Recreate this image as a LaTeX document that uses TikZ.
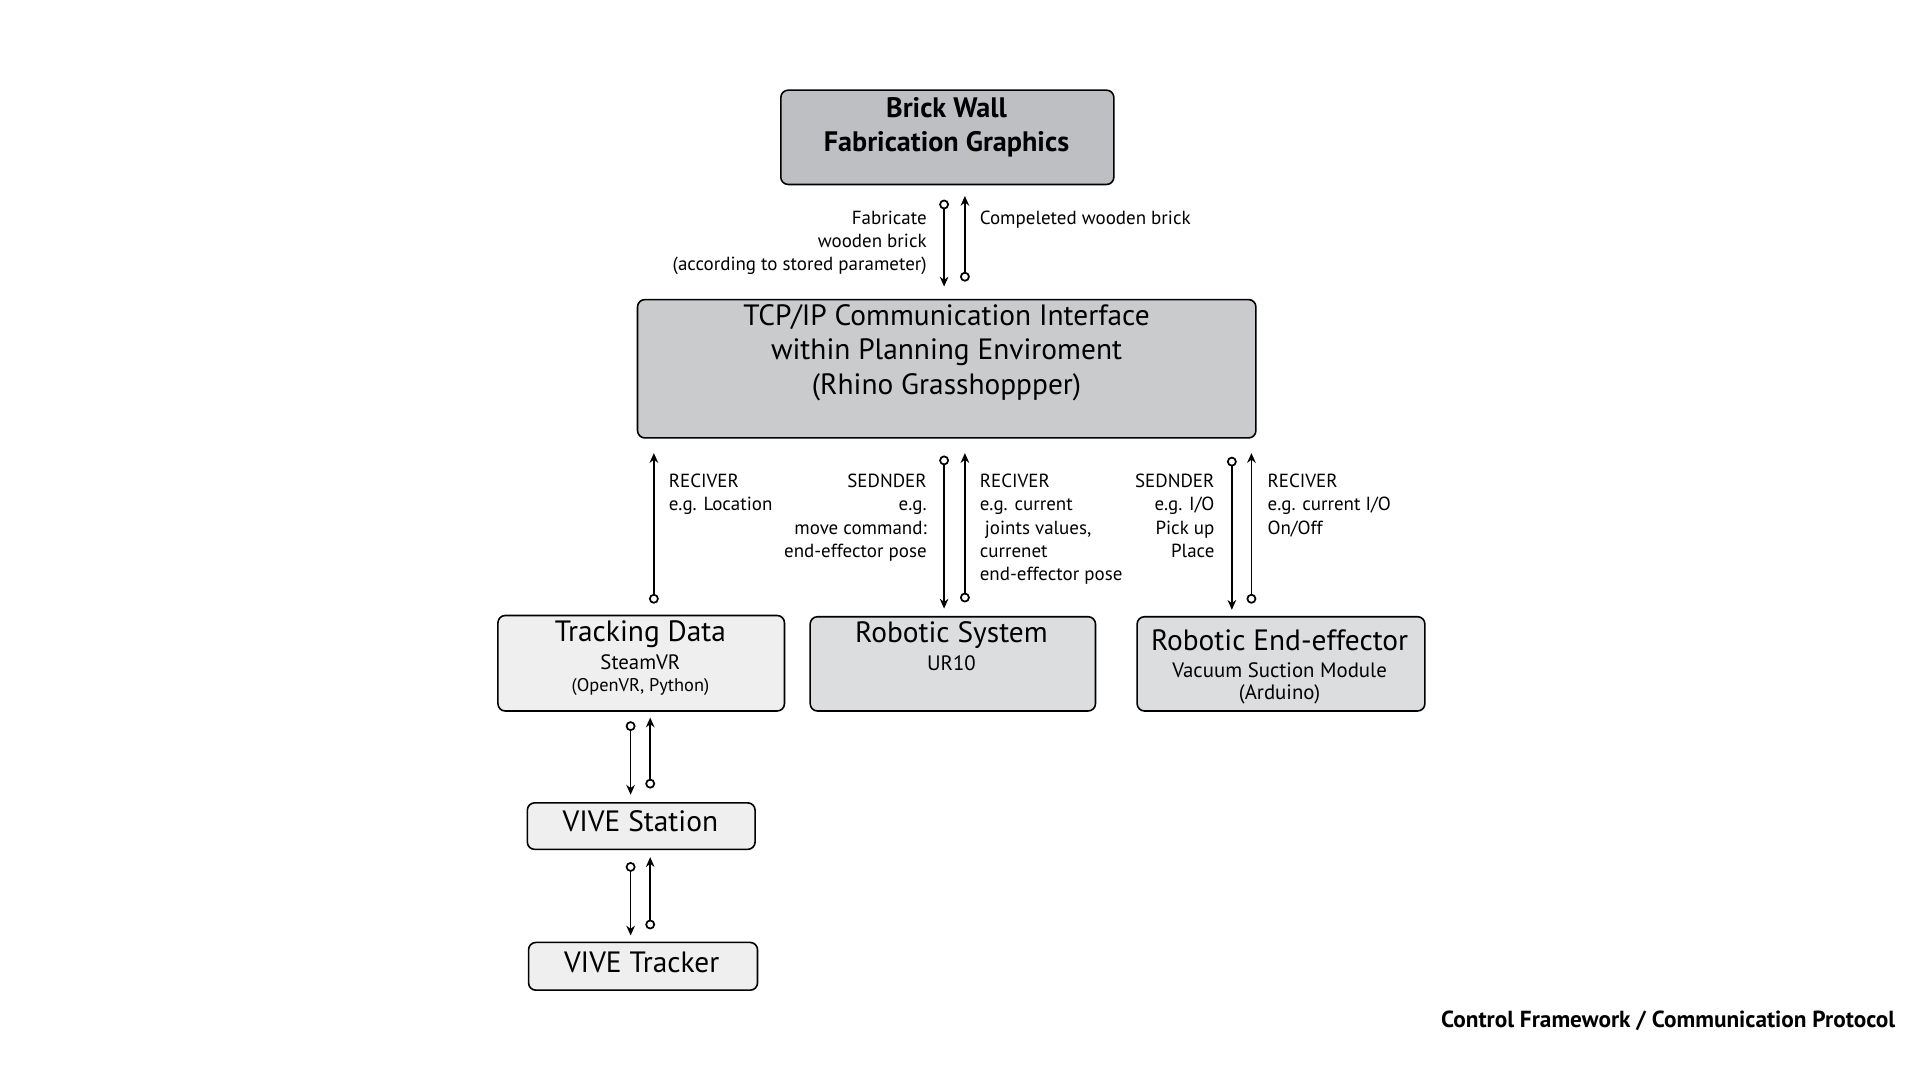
\documentclass[tikz,border=0pt]{standalone}
\usepackage{fontspec}
\setmainfont{PT Sans}
\usetikzlibrary{arrows.meta}
\definecolor{gdark}{HTML}{BDBFC2}
\definecolor{gmid}{HTML}{CACBCD}
\definecolor{glight}{HTML}{DCDDDE}
\definecolor{gpale}{HTML}{EFEFEF}
\begin{document}
\begin{tikzpicture}[x=1pt,y=-1pt,
        box/.style={draw, line width=1.3pt, rounded corners=6pt, anchor=north west, inner sep=0pt},
        lbl/.style={font=\fontsize{15.5}{19}\selectfont, align=left, anchor=north west, inner sep=0pt},
        lblr/.style={lbl, align=right, anchor=north east},
        big/.style={font=\fontsize{24}{28}\selectfont, inner sep=0pt},
        mid/.style={font=\fontsize{17}{20}\selectfont, inner sep=0pt},
        sml/.style={font=\fontsize{15}{18}\selectfont, inner sep=0pt},
        sig/.style={line width=1.4pt, {Circle[open,length=8pt,width=8pt]}-{Stealth[length=8pt,width=7pt]}}
        ]
    % Define canvas
    \useasboundingbox (0,0) rectangle (1568,882);

    % Define boxes
    \node[box, fill=gdark, minimum width=272pt, minimum height=77pt] (wall) at (637,73) {};
    \node[big, align=center, font=\fontsize{23}{28}\selectfont\bfseries] at (773,104) {Brick Wall\\Fabrication Graphics};
    \node[box, fill=gmid, minimum width=505pt, minimum height=113pt] (tcp) at (520,244) {};
    \node[big, align=center] at (773,288) {TCP/IP Communication Interface\\within Planning Enviroment\\(Rhino Grasshoppper)};
    \node[box, fill=gpale, minimum width=234pt, minimum height=78pt] (track) at (406,502) {};
    \node[big] at (523,518) {Tracking Data};
    \node[mid] at (523,541) {SteamVR};
    \node[sml] at (523,561) {(OpenVR, Python)};
    \node[box, fill=glight, minimum width=233pt, minimum height=77pt] (robot) at (661,503) {};
    \node[big] at (777,519) {Robotic System};
    \node[mid] at (777,542) {UR10};
    \node[box, fill=glight, minimum width=235pt, minimum height=77pt] (eff) at (928,503) {};
    \node[big] at (1045,523) {Robotic End-effector};
    \node[mid] at (1045,547) {Vacuum Suction Module};
    \node[mid] at (1045,567) {(Arduino)};
    \node[box, fill=gpale, minimum width=186pt, minimum height=38pt] (station) at (430,655) {};
    \node[big, anchor=center] at (523,671) {VIVE Station};
    \node[box, fill=gpale, minimum width=187pt, minimum height=39pt] (tracker) at (431,769) {};
    \node[big, anchor=center] at (524,786) {VIVE Tracker};

    % Define signal end points
    \foreach \n/\x/\y in {a1/771/163, a2/771/234, b1/788/230, b2/788/160,
                          c1/534/493, c2/534/370,
                          d1/771/372, d2/771/497, e1/788/492, e2/788/370,
                          f1/1006/373, f2/1006/498, g1/1022/493, g2/1022/370,
                          h1/515/589, h2/515/649, i1/531/644, i2/531/586,
                          j1/515/704, j2/515/764, k1/531/759, k2/531/700}
        \coordinate (\n) at (\x,\y);

    % Draw signals
    \foreach \s/\t in {a1/a2, b1/b2, c1/c2, d1/d2, e1/e2, f1/f2, g1/g2, h1/h2, i1/i2, j1/j2, k1/k2}
        \draw[sig] (\s) -- (\t);

    % Draw labels
    \node[lblr] at (757,172) {Fabricate\\wooden brick\\(according to stored parameter)};
    \node[lbl] at (800,172) {Compeleted wooden brick};
    \node[lbl] at (546,387) {RECIVER\\e.g. Location};
    \node[lblr] at (757,387) {SEDNDER\\e.g.\\move command:\\end-effector pose};
    \node[lbl] at (800,387) {RECIVER\\e.g. current\\\ joints values,\\currenet\\end-effector pose};
    \node[lblr] at (992,387) {SEDNDER\\e.g. I/O\\Pick up\\Place};
    \node[lbl] at (1035,387) {RECIVER\\e.g. current I/O\\On/Off};
    \node[anchor=east, inner sep=0pt, font=\fontsize{19}{22}\selectfont\bfseries] at (1548,834) {Control Framework / Communication Protocol};
\end{tikzpicture}
\end{document}
